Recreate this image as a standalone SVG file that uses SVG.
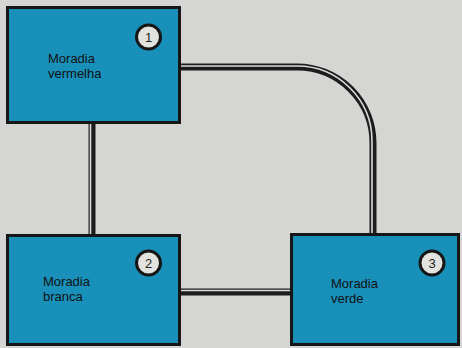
<svg xmlns="http://www.w3.org/2000/svg" width="462" height="348" viewBox="0 0 462 348">
  <style>
    .box { fill: #1890ba; stroke: #161616; stroke-width: 3; }
    .badge { fill: #e2e2de; stroke: #161616; stroke-width: 3; }
    .num { font-family: "Liberation Sans", Arial, sans-serif; font-size: 13px; fill: #222; text-anchor: middle; }
    .label { font-family: "Liberation Sans", Arial, sans-serif; font-size: 13px; fill: #111; }
    .pipe-out { fill: none; stroke: #1c1c1c; stroke-width: 7; }
    .pipe-in { fill: none; stroke: #dcdcda; stroke-width: 1.6; }
  </style>
  <rect width="462" height="348" fill="#d5d5d3"/>

  <!-- double-line connectors -->
  <g id="connectors">
    <path class="pipe-out" d="M92,122 V236"/>
    <path class="pipe-in" d="M90.5,122 V236"/>
    <path class="pipe-out" d="M178,292 H292"/>
    <path class="pipe-in" d="M178,290.5 H292"/>
    <path class="pipe-out" d="M178,67 H297 A76,76 0 0 1 373,143 V236"/>
    <path class="pipe-in" d="M178,66 H297 A75,75 0 0 1 372,141 V236"/>
  </g>

  <g id="node1">
    <rect class="box" x="7.5" y="7.5" width="172" height="115"/>
    <circle class="badge" cx="148.5" cy="37" r="12"/>
    <text class="num" x="148.5" y="42">1</text>
    <text class="label" x="48" y="63">Moradia</text>
    <text class="label" x="48" y="78">vermelha</text>
  </g>

  <g id="node2">
    <rect class="box" x="7.5" y="235.5" width="172" height="109"/>
    <circle class="badge" cx="148.5" cy="263" r="12"/>
    <text class="num" x="148.5" y="268">2</text>
    <text class="label" x="43" y="286">Moradia</text>
    <text class="label" x="43" y="301">branca</text>
  </g>

  <g id="node3">
    <rect class="box" x="291.5" y="234.5" width="167" height="110"/>
    <circle class="badge" cx="432" cy="263" r="12"/>
    <text class="num" x="432" y="268">3</text>
    <text class="label" x="331" y="288">Moradia</text>
    <text class="label" x="331" y="303">verde</text>
  </g>
</svg>
